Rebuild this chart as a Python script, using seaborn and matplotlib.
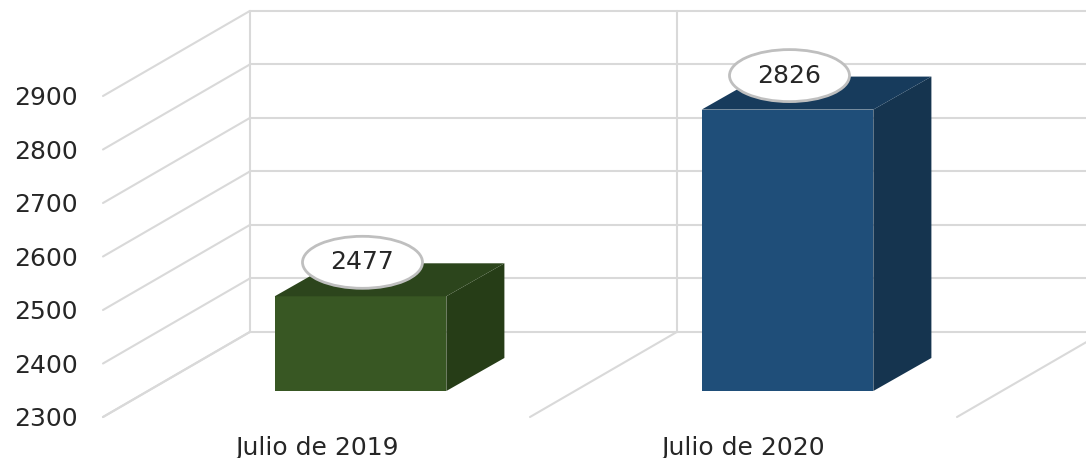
import matplotlib
matplotlib.use('Agg')
import matplotlib.pyplot as plt
from matplotlib.patches import Ellipse
from matplotlib.transforms import IdentityTransform
import pandas as pd
import seaborn as sns

# Data
months = ['Julio de 2019', 'Julio de 2020']
counts = [2477, 2826]
y_ticks = [2300, 2400, 2500, 2600, 2700, 2800, 2900]

# Colours for each bar: front, side, top
front_colors = ['#385723', '#1F4E79']
side_colors = ['#263D17', '#15344F']
top_colors = ['#2C451C', '#173B5C']
grid_color = '#D9D9D9'

# Fake 3D depth, in data units (categories, value)
wall_dx, wall_dy = 0.344, 159
bar_dx, bar_dy = 0.136, 61.7

sns.set_theme(style='white')
plt.rcParams['font.family'] = ['DejaVu Sans']

W, H = 1086, 458
fig = plt.figure(figsize=(W / 100, H / 100), dpi=100)

# Front plane holds the axis labels, second axes is the plane of the bars
ax = fig.add_axes([103 / W, (H - 417) / H, 854 / W, 321 / H])
ax_bar = fig.add_axes([147 / W, (H - 391) / H, 854 / W, 321 / H])

ax.set_xlim(-0.5, 1.5)
ax.set_ylim(y_ticks[0], y_ticks[-1])
ax.set_xticks(range(len(months)))
ax.set_xticklabels(months)
ax.set_yticks(y_ticks)
ax.tick_params(axis='x', length=0, pad=13.5, labelsize=18, labelcolor='#262626')
ax.tick_params(axis='y', length=0, pad=18, labelsize=18, labelcolor='#262626')
sns.despine(ax=ax, left=True, bottom=True)

# Left side wall and back wall gridlines
right_edge = ax.get_xlim()[1] + wall_dx
for v in y_ticks:
    ax.plot([-0.5, -0.5 + wall_dx], [v, v + wall_dy], color=grid_color, lw=1.5, clip_on=False)
    ax.plot([-0.5 + wall_dx, right_edge], [v + wall_dy, v + wall_dy], color=grid_color, lw=1.5, clip_on=False)

# Floor lines and back wall verticals at the category boundaries
for x in [-0.5, 0.5, 1.5]:
    ax.plot([x, x + wall_dx], [y_ticks[0], y_ticks[0] + wall_dy], color=grid_color, lw=1.5, clip_on=False)
    ax.plot([x + wall_dx, x + wall_dx], [y_ticks[0] + wall_dy, y_ticks[-1] + wall_dy],
            color=grid_color, lw=1.5, clip_on=False)

df = pd.DataFrame({'mes': months, 'total': counts})
sns.barplot(data=df, x='mes', y='total', hue='mes', palette=front_colors, width=0.402,
            legend=False, saturation=1, linewidth=0, ax=ax_bar)
ax_bar.set_ylim(y_ticks[0], y_ticks[-1])
ax_bar.set_xlim(-0.5, 1.5)
ax_bar.axis('off')

floor = y_ticks[0]
for i, bar in enumerate(ax_bar.patches):
    x0 = bar.get_x()
    x1 = x0 + bar.get_width()
    top = bar.get_height()
    # side face
    ax_bar.fill([x1, x1 + bar_dx, x1 + bar_dx, x1],
                [floor, floor + bar_dy, top + bar_dy, top],
                color=side_colors[i], lw=0, clip_on=False)
    # top face
    ax_bar.fill([x0, x1, x1 + bar_dx, x0 + bar_dx],
                [top, top, top + bar_dy, top + bar_dy],
                color=top_colors[i], lw=0, clip_on=False)
    # value callout, ellipse is sized in pixels so it keeps its shape
    px, py = ax_bar.transData.transform((x0 + bar.get_width() / 2, top))
    ax_bar.add_patch(Ellipse((px + 2, py + 34), 120, 52, transform=IdentityTransform(),
                             fc='white', ec='#BFBFBF', lw=2, clip_on=False, zorder=9))
    ax_bar.annotate(str(counts[i]), xy=(px + 2, py + 34), xycoords='figure pixels',
                    ha='center', va='center', fontsize=18, color='#262626', zorder=10)

fig.savefig('out.png', dpi=100)
